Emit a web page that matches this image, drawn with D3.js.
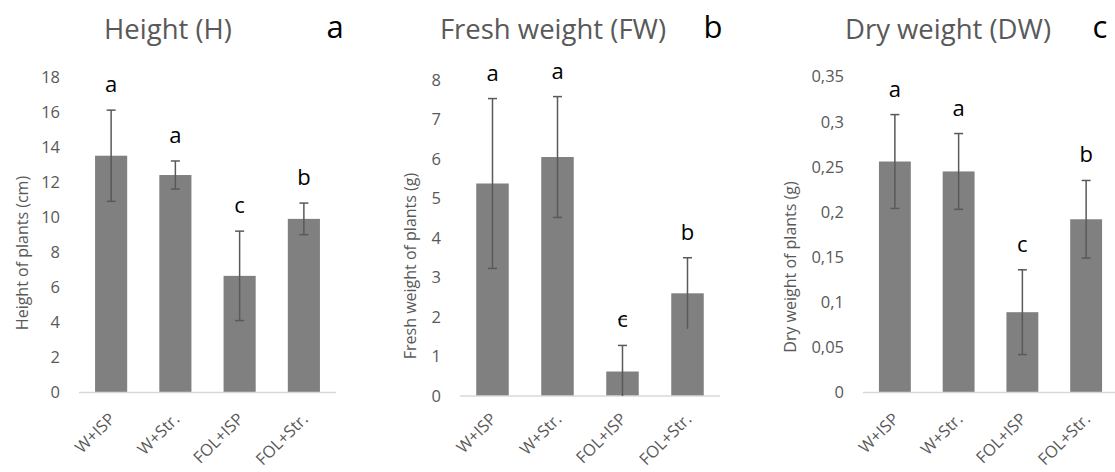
<!DOCTYPE html>
<html>
<head>
<meta charset="utf-8">
<script src="https://cdn.jsdelivr.net/npm/d3@7"></script>
<style>
  body { margin: 0; background: #fff; }
  svg { display: block; font-family: "Open Sans", "Noto Sans", sans-serif; }
</style>
</head>
<body>
<svg id="chart" width="1115" height="472"></svg>
<script>
const categories = ["W+ISP", "W+Str.", "FOL+ISP", "FOL+Str."];

const heightMean = [13.5, 12.4, 6.65, 9.9];
const heightErr = [2.6, 0.8, 2.55, 0.9];
const heightLetters = ["a", "a", "c", "b"];
const heightTicks = [0, 2, 4, 6, 8, 10, 12, 14, 16, 18];

const freshMean = [5.38, 6.05, 0.62, 2.6];
const freshErr = [2.15, 1.53, 0.66, 0.9];
const freshLetters = ["a", "a", "c", "b"];
const freshTicks = [0, 1, 2, 3, 4, 5, 6, 7, 8];

const dryMean = [0.256, 0.245, 0.089, 0.192];
const dryErr = [0.052, 0.042, 0.047, 0.043];
const dryLetters = ["a", "a", "c", "b"];
const dryTicks = [0, 0.05, 0.1, 0.15, 0.2, 0.25, 0.3, 0.35];

const panels = [
    { title: "Height (H)", tag: "a", yTitle: "Height of plants (cm)",
      mean: heightMean, err: heightErr, letters: heightLetters, ticks: heightTicks,
      x0: 79, x1: 336, y0: 392.5, y1: 76.8, titleX: 168, tagX: 335, yTitleX: 22, yTitleY: 253, fmt: d => String(d) },
    { title: "Fresh weight (FW)", tag: "b", yTitle: "Fresh weight of plants (g)",
      mean: freshMean, err: freshErr, letters: freshLetters, ticks: freshTicks,
      x0: 460, x1: 720, y0: 396, y1: 80, titleX: 553, tagX: 713, yTitleX: 410, yTitleY: 266, fmt: d => String(d) },
    { title: "Dry weight (DW)", tag: "c", yTitle: "Dry weight of plants (g)",
      mean: dryMean, err: dryErr, letters: dryLetters, ticks: dryTicks,
      x0: 863, x1: 1118, y0: 392.5, y1: 76.7, titleX: 948, tagX: 1100, yTitleX: 790, yTitleY: 267, fmt: d => String(d).replace(".", ",") }
];

const svg = d3.select("#chart");

function renderPanel(p) {
    const g = svg.append("g");
    const max = p.ticks[p.ticks.length - 1];

    const x = d3.scaleBand()
        .domain(categories)
        .range([p.x0, p.x1])
        .paddingInner(0.5)
        .paddingOuter(0.25);
    const y = d3.scaleLinear()
        .domain([0, max])
        .range([p.y0, p.y1]);

    // title + panel tag
    g.append("text")
        .attr("x", p.titleX)
        .attr("y", 39)
        .attr("text-anchor", "middle")
        .attr("fill", "#595959")
        .attr("font-size", 27.5)
        .text(p.title);
    g.append("text")
        .attr("x", p.tagX)
        .attr("y", 38)
        .attr("text-anchor", "middle")
        .attr("fill", "#000")
        .attr("font-size", 31)
        .text(p.tag);

    // y tick labels
    g.selectAll(".ytick")
        .data(p.ticks)
        .join("text")
        .attr("class", "ytick")
        .attr("x", p.x0 - 19)
        .attr("y", d => y(d))
        .attr("dy", "0.35em")
        .attr("text-anchor", "end")
        .attr("fill", "#595959")
        .attr("font-size", 16.5)
        .text(p.fmt);

    // y axis title
    g.append("text")
        .attr("transform", `translate(${p.yTitleX},${p.yTitleY}) rotate(-90)`)
        .attr("text-anchor", "middle")
        .attr("dy", "0.35em")
        .attr("fill", "#595959")
        .attr("font-size", 16)
        .text(p.yTitle);

    // bars
    g.selectAll(".bar")
        .data(p.mean)
        .join("rect")
        .attr("class", "bar")
        .attr("x", (d, i) => x(categories[i]))
        .attr("y", d => y(d))
        .attr("width", x.bandwidth())
        .attr("height", d => y(0) - y(d))
        .attr("fill", "#808080");

    // baseline
    g.append("line")
        .attr("x1", p.x0).attr("x2", p.x1)
        .attr("y1", y(0)).attr("y2", y(0))
        .attr("stroke", "#d9d9d9")
        .attr("stroke-width", 1.5);

    // error bars
    const cx = i => x(categories[i]) + x.bandwidth() / 2;
    const lo = (d, i) => y(Math.max(0, d - p.err[i]));
    const hi = (d, i) => y(d + p.err[i]);
    const eb = g.selectAll(".err")
        .data(p.mean)
        .join("g")
        .attr("class", "err")
        .attr("stroke", "#595959")
        .attr("stroke-width", 1.5);
    eb.append("line")
        .attr("x1", (d, i) => cx(i)).attr("x2", (d, i) => cx(i))
        .attr("y1", lo).attr("y2", hi);
    eb.append("line")
        .attr("x1", (d, i) => cx(i) - 4.5).attr("x2", (d, i) => cx(i) + 4.5)
        .attr("y1", hi).attr("y2", hi);
    eb.filter((d, i) => d - p.err[i] > 0)
        .append("line")
        .attr("x1", (d, i) => cx(i) - 4.5).attr("x2", (d, i) => cx(i) + 4.5)
        .attr("y1", lo).attr("y2", lo);

    // significance letters
    g.selectAll(".sig")
        .data(p.letters)
        .join("text")
        .attr("class", "sig")
        .attr("x", (d, i) => cx(i))
        .attr("y", (d, i) => y(p.mean[i] + p.err[i]) - 18)
        .attr("text-anchor", "middle")
        .attr("fill", "#000")
        .attr("font-size", 22)
        .text(d => d);

    // category labels
    g.selectAll(".xlab")
        .data(categories)
        .join("text")
        .attr("class", "xlab")
        .attr("transform", d => `translate(${x(d) + x.bandwidth() / 2 + 1},${Math.min(y(0) + 24, 416)}) rotate(-45)`)
        .attr("text-anchor", "end")
        .attr("dy", "0.35em")
        .attr("fill", "#595959")
        .attr("font-size", 16.5)
        .text(d => d);
}

panels.forEach(renderPanel);
</script>
</body>
</html>
